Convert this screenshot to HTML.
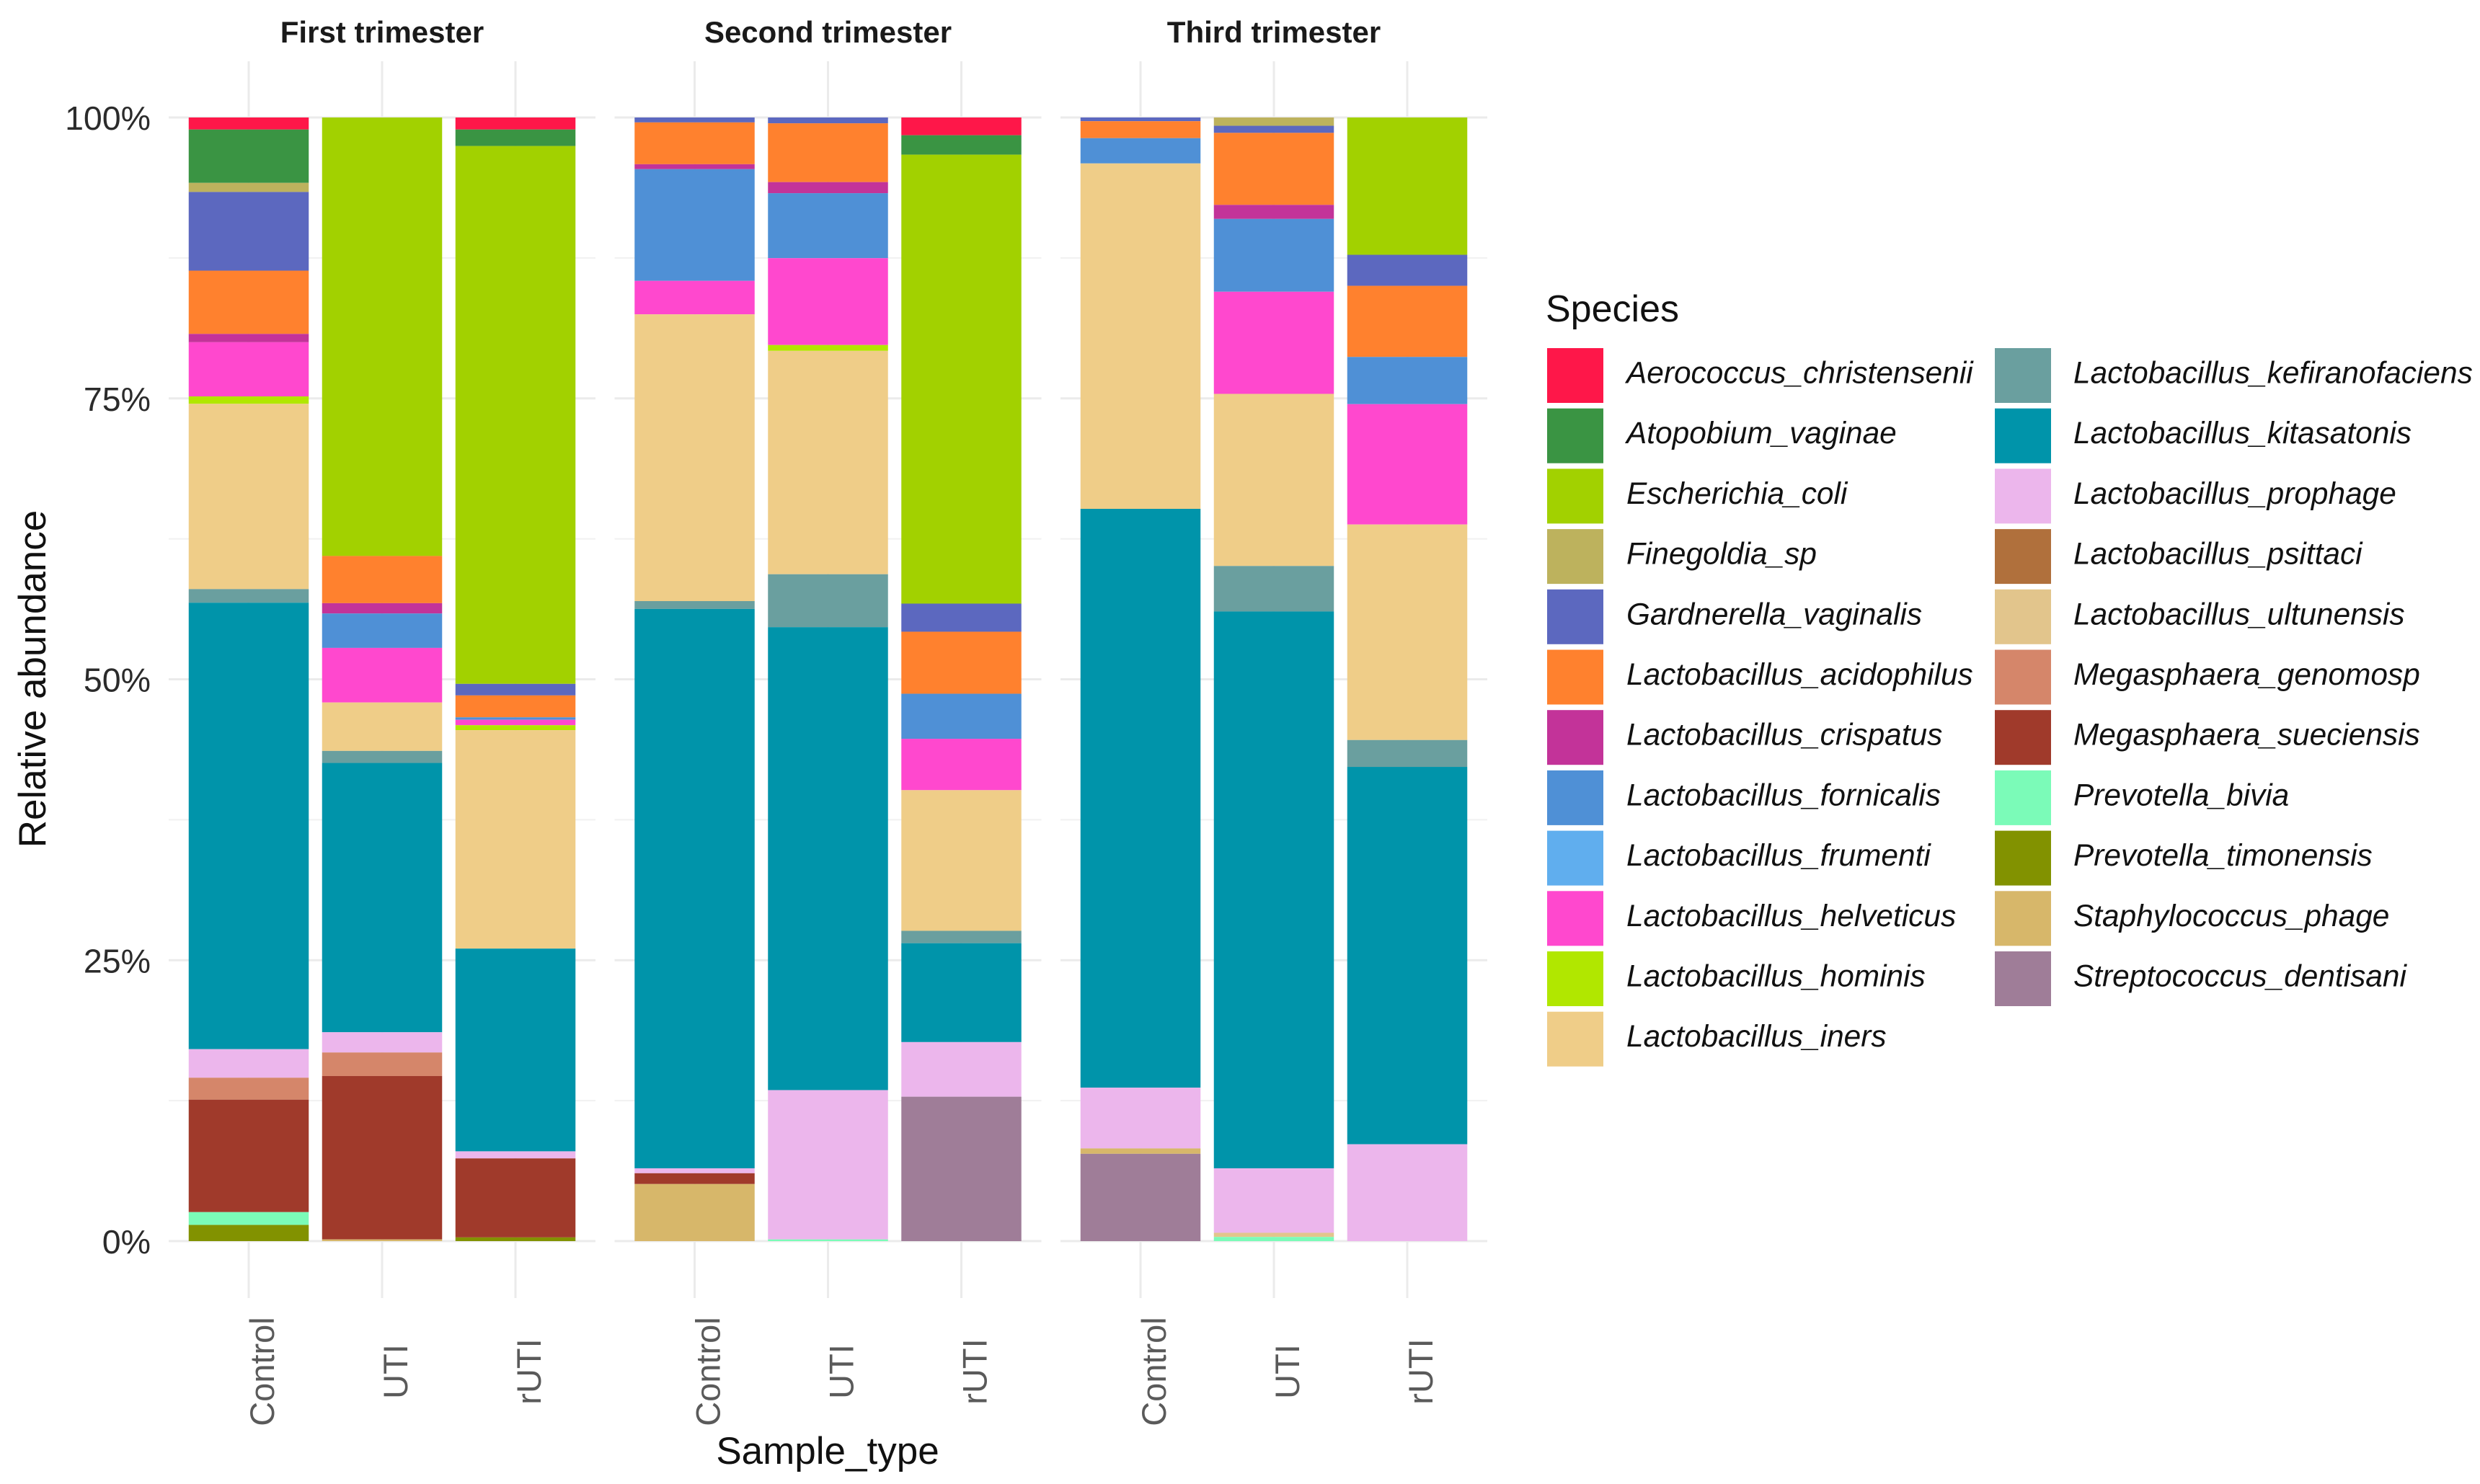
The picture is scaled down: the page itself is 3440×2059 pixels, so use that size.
<!DOCTYPE html>
<html>
<head>
<meta charset="utf-8">
<title>Relative abundance by trimester</title>
<style>
html,body{margin:0;padding:0;background:#fff;}
svg{display:block;font-family:"Liberation Sans",Arial,sans-serif;}
</style>
</head>
<body>
<svg id="chart" xmlns="http://www.w3.org/2000/svg" width="3440" height="2059" viewBox="0 0 3440 2059">
<rect x="0" y="0" width="3440" height="2059" fill="#ffffff"/>
<g id="grid"></g>
<g id="bars"></g>
<g id="axes"></g>
<g id="legend"></g>
</svg>
<script>
const species = ["Aerococcus_christensenii","Atopobium_vaginae","Escherichia_coli","Finegoldia_sp","Gardnerella_vaginalis","Lactobacillus_acidophilus","Lactobacillus_crispatus","Lactobacillus_fornicalis","Lactobacillus_frumenti","Lactobacillus_helveticus","Lactobacillus_hominis","Lactobacillus_iners","Lactobacillus_kefiranofaciens","Lactobacillus_kitasatonis","Lactobacillus_prophage","Lactobacillus_psittaci","Lactobacillus_ultunensis","Megasphaera_genomosp","Megasphaera_sueciensis","Prevotella_bivia","Prevotella_timonensis","Staphylococcus_phage","Streptococcus_dentisani"];
const speciesColors = ["#fe1749","#3a9443","#a2d100","#bdb25d","#5c68bf","#ff812e","#c33399","#4f90d6","#60aeee","#ff48ce","#b1e700","#efcd88","#6a9f9f","#0094aa","#ecb6ec","#b0703c","#e2c58c","#d5866a","#a03a2b","#7bfbb8","#829200","#d7b76a","#9f7d98"];
const trimesters = ["First trimester","Second trimester","Third trimester"];
const sampleTypes = ["Control","UTI","rUTI"];
const yTickLabels = ["0%","25%","50%","75%","100%"];
const yTickValues = [0,25,50,75,100];
const yMinorValues = [12.5,37.5,62.5,87.5];

// Abundance (%) per species, same order as `species`
const firstControl  = [1.07,4.75,0,0.81,7.00,5.63,0.74,0,0,4.82,0.66,16.49,1.21,39.73,2.54,0,0,1.95,10.01,1.14,1.44,0,0];
const firstUTI      = [0,0,39.03,0,0,4.20,0.92,3.06,0,4.86,0,4.31,1.07,23.97,1.80,0,0,2.10,14.54,0,0,0.15,0];
const firstRUTI     = [1.07,1.47,47.86,0,1.03,1.95,0,0.22,0,0.48,0.44,19.44,0,18.04,0.63,0,0,0,7.03,0,0.33,0,0];
const secondControl = [0,0,0,0,0.44,3.72,0.44,9.94,0,2.98,0,25.52,0.70,49.78,0.44,0,0,0,0.96,0,0,5.08,0];
const secondUTI     = [0,0,0,0,0.52,5.23,0.99,5.78,0,7.73,0.52,19.88,4.71,41.20,13.29,0,0,0,0,0.15,0,0,0];
const secondRUTI    = [1.58,1.73,39.95,0,2.50,5.52,0,4.01,0,4.57,0,12.52,1.10,8.80,4.86,0,0,0,0,0,0,0,12.85];
const thirdControl  = [0,0,0,0,0.33,1.51,0,2.25,0,0,0,30.74,0,51.51,5.41,0,0,0,0,0,0,0.48,7.77];
const thirdUTI      = [0,0,0,0.74,0.63,6.41,1.25,6.48,0,9.09,0,15.32,4.05,49.56,5.74,0,0.37,0,0,0.37,0,0,0];
const thirdRUTI     = [0,0,12.22,0,2.76,6.33,0,4.20,0,10.71,0,19.18,2.39,33.58,8.62,0,0,0,0,0,0,0,0];
const panelBars = [[firstControl,firstUTI,firstRUTI],[secondControl,secondUTI,secondRUTI],[thirdControl,thirdUTI,thirdRUTI]];

const NS = "http://www.w3.org/2000/svg";
const plot = {y0:1722, y100:163, top:85, bottom:1801, panelLeft0:234, panelStep:618.5, panelW:592};
const unit = plot.panelW/3.2;
function yScale(v){ return plot.y0 - (plot.y0-plot.y100)*v/100; }
function panelLeft(p){ return plot.panelLeft0 + p*plot.panelStep; }
function xScale(p,i){ return panelLeft(p) + (0.6+i)*unit; }
function slug(s){ return s.toLowerCase().replace(/[^a-z0-9]+/g,'-'); }
function make(tag,attrs,parent,txt){
  const el=document.createElementNS(NS,tag);
  for(const k in attrs) el.setAttribute(k,attrs[k]);
  if(txt!==undefined) el.textContent=txt;
  parent.appendChild(el);
  return el;
}
const gridG=document.getElementById('grid'), barsG=document.getElementById('bars'), axesG=document.getElementById('axes'), legendG=document.getElementById('legend');

trimesters.forEach(function(title,p){
  const L=panelLeft(p), R=L+plot.panelW;
  yMinorValues.forEach(function(v){
    const ln=make('line',{x1:L,x2:R,y1:yScale(v),y2:yScale(v),stroke:'#f1f1f1','stroke-width':2},gridG);
    
    
  });
  yTickValues.forEach(function(v){
    const ln=make('line',{x1:L,x2:R,y1:yScale(v),y2:yScale(v),stroke:'#ebebeb','stroke-width':3},gridG);
    
    
  });
  sampleTypes.forEach(function(st,i){
    const x=xScale(p,i);
    const ln=make('line',{x1:x,x2:x,y1:plot.top,y2:plot.bottom,stroke:'#ebebeb','stroke-width':3},gridG);
    
    
  });

  const strip=make('text',{x:L+plot.panelW/2,y:59,'text-anchor':'middle','font-size':42,'font-weight':'bold',fill:'#1a1a1a'},axesG,title);
  
  

  panelBars[p].forEach(function(vals,i){
    const total=vals.reduce(function(a,b){return a+b;},0);
    const x=xScale(p,i), w=0.9*unit;
    let cum=100;
    vals.forEach(function(v,s){
      if(v<=0) return;
      const hi=cum, lo=cum-v*100/total;
      cum=lo;
      const r=make('rect',{x:x-w/2,y:yScale(hi),width:w,height:yScale(lo)-yScale(hi),fill:speciesColors[s]},barsG);
      
      
    });
    const bx=x+35, by=1903;
    const lab=make('text',{x:bx,y:by,transform:'rotate(-90 '+bx+' '+by+')','text-anchor':'middle','font-size':47,fill:'#5a5a5a'},axesG,sampleTypes[i]);
    
    
  });
});

yTickValues.forEach(function(v,i){
  const t=make('text',{x:209,y:yScale(v)+17,'text-anchor':'end','font-size':46.5,fill:'#2b2b2b'},axesG,yTickLabels[i]);
  
  
});

const yTitle=make('text',{x:63,y:942,transform:'rotate(-90 63 942)','text-anchor':'middle','font-size':53,fill:'#111'},axesG,'Relative abundance');



const xTitle=make('text',{x:1148,y:2031,'text-anchor':'middle','font-size':53,fill:'#111'},axesG,'Sample_type');



const legTitle=make('text',{x:2144,y:446,'font-size':52,fill:'#111'},legendG,'Species');



species.forEach(function(name,i){
  const col=i<12?0:1, row=i<12?i:i-12;
  const sx=col===0?2146:2767, tx=col===0?2256:2876;
  const sy=483+row*83.7;
  const sw=make('rect',{x:sx,y:sy,width:78,height:76,fill:speciesColors[i]},legendG);
  
  
  const tl=make('text',{x:tx,y:sy+38+10.5,'font-size':42.4,'font-style':'italic',fill:'#111'},legendG,name);
  
  
});
</script>
</body>
</html>
